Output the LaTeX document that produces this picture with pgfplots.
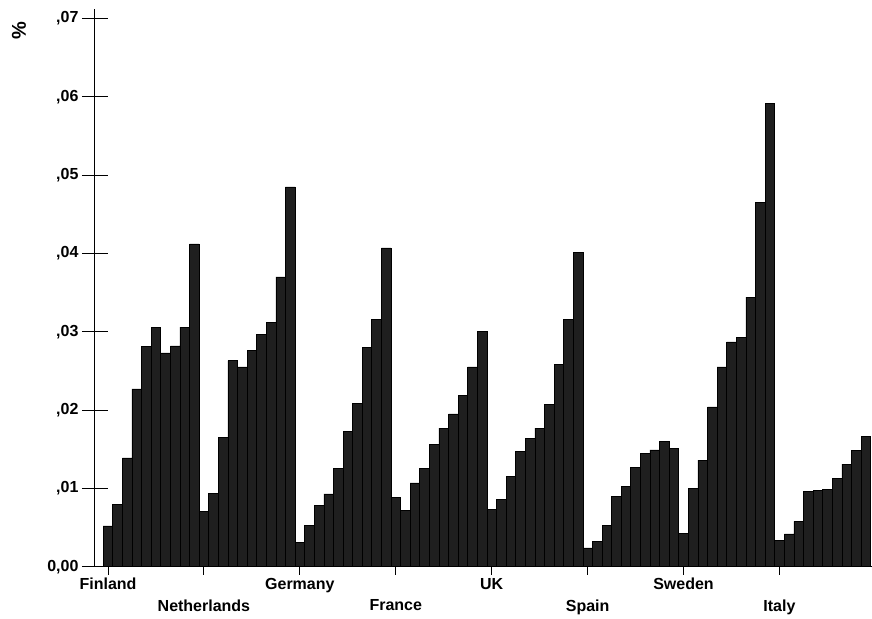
\documentclass[border=0pt]{standalone}
\usepackage{fontspec}
\setmainfont{Liberation Sans}
\usepackage{pgfplots}
\pgfplotsset{compat=1.18}
\begin{document}
\begin{tikzpicture}
\begin{axis}[
  name=ax,
  scale only axis,
  width=777pt, height=558pt,
  xmin=-1.36, xmax=79.6,
  ymin=0, ymax=0.0712,
  axis lines*=left,
  axis line style={line width=0.9pt},
  ybar, bar width=1,
  xtick={0,20,40,60},
  xticklabels={Finland,Germany,UK,Sweden},
  extra x ticks={10,30,50,70},
  extra x tick labels={Netherlands,France,Spain,Italy},
  extra x tick style={xticklabel style={yshift=-21.7pt}},
  tick align=outside,
  major tick length=8pt,
  tick style={black, line width=0.9pt},
  ytick=\empty,
  extra y ticks={0,0.01,0.02,0.03,0.04,0.05,0.06,0.07},
  extra y tick labels={{0,00},{,01},{,02},{,03},{,04},{,05},{,06},{,07}},
  extra y tick style={major tick length=26pt, tick align=center},
  tick label style={font=\fontsize{16}{19}\selectfont\bfseries},
  clip=false,
]
\addplot[fill=black!88, draw=black, line width=0.6pt] table[x=x, y=y] {
x y
0 0.0052
1 0.0080
2 0.0139
3 0.0227
4 0.0281
5 0.0305
6 0.0273
7 0.0282
8 0.0306
9 0.0412
10 0.0071
11 0.0094
12 0.0165
13 0.0263
14 0.0255
15 0.0276
16 0.0297
17 0.0312
18 0.0370
19 0.0485
20 0.0031
21 0.0053
22 0.0078
23 0.0093
24 0.0125
25 0.0173
26 0.0208
27 0.0280
28 0.0316
29 0.0407
30 0.0088
31 0.0072
32 0.0107
33 0.0126
34 0.0156
35 0.0177
36 0.0195
37 0.0219
38 0.0255
39 0.0300
40 0.0073
41 0.0086
42 0.0115
43 0.0147
44 0.0164
45 0.0177
46 0.0207
47 0.0258
48 0.0316
49 0.0401
50 0.0024
51 0.0032
52 0.0053
53 0.0090
54 0.0103
55 0.0127
56 0.0145
57 0.0149
58 0.0160
59 0.0151
60 0.0043
61 0.0100
62 0.0136
63 0.0204
64 0.0255
65 0.0287
66 0.0293
67 0.0344
68 0.0465
69 0.0591
70 0.0034
71 0.0042
72 0.0058
73 0.0096
74 0.0097
75 0.0099
76 0.0113
77 0.0131
78 0.0148
79 0.0166
};
\node[font=\fontsize{20}{24}\selectfont\bfseries, rotate=90] at ([shift={(-76pt,-22pt)}]rel axis cs:0,1) {\%};
\end{axis}
\path ([shift={(-95pt,-48pt)}]ax.south west) rectangle ([shift={(0pt,9pt)}]ax.north east);
\end{tikzpicture}
\end{document}
